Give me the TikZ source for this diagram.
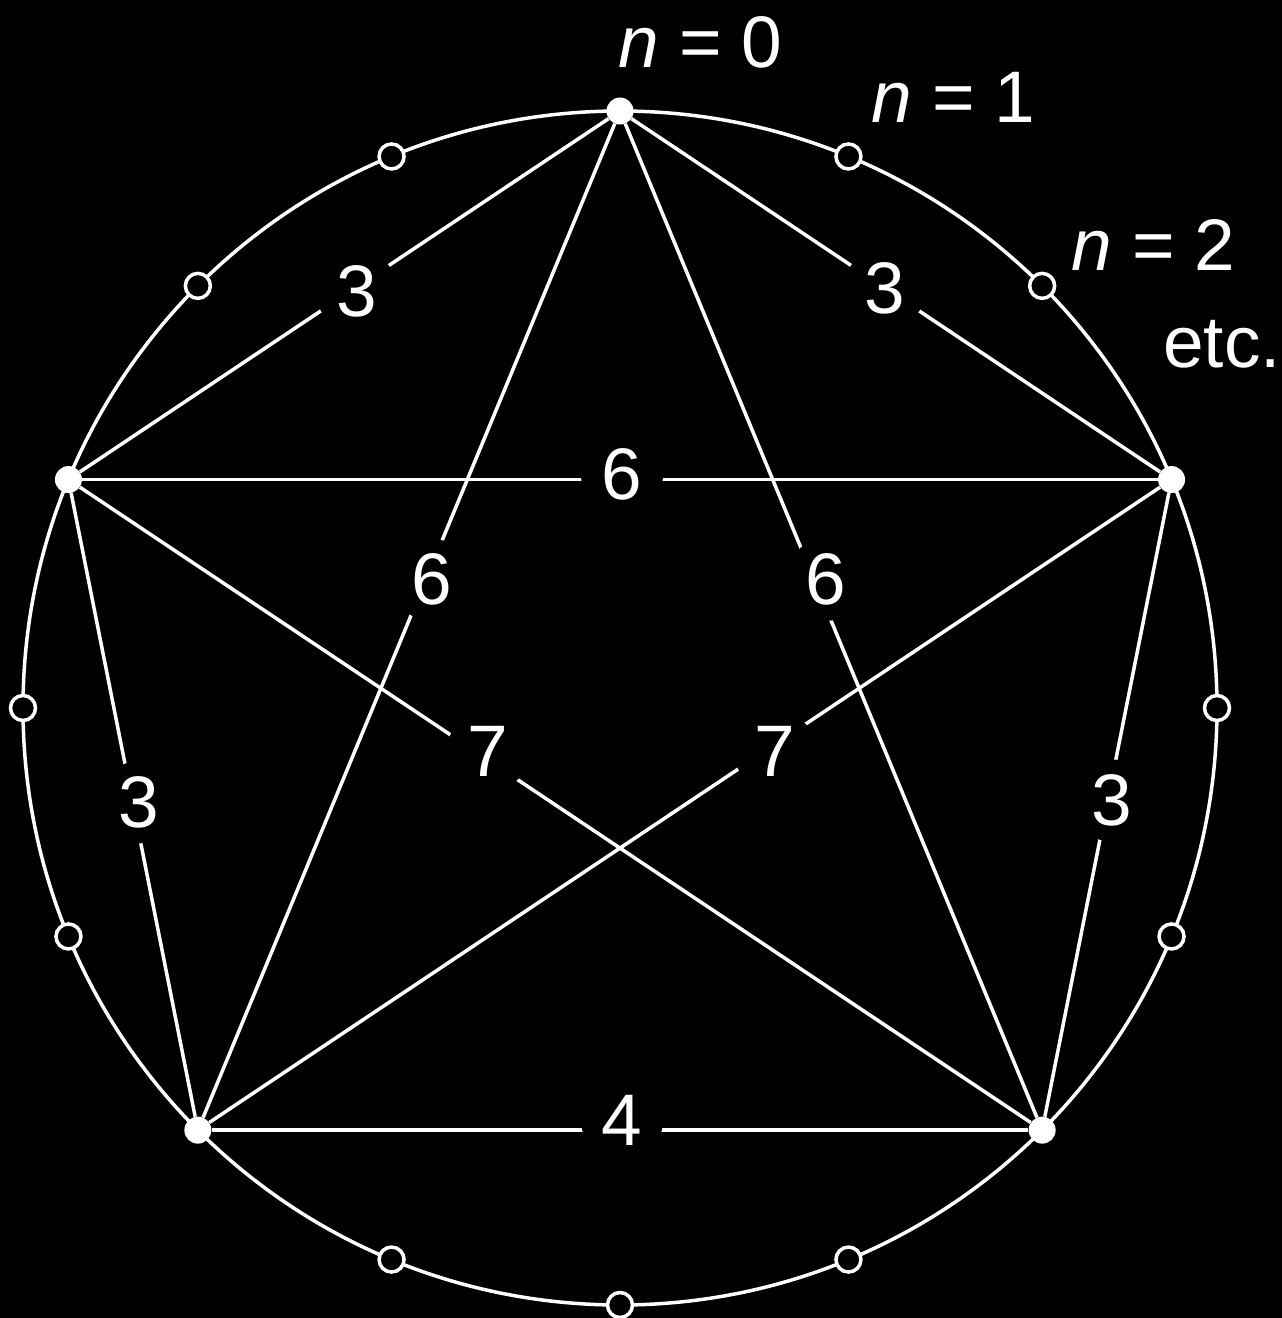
\documentclass[tikz,border=0pt]{standalone}
\usepackage{fontspec}
\setmainfont{Liberation Sans}
\usetikzlibrary{calc}
\tikzset{
  ln/.style={draw=white, line width=3.5pt},
  filled/.style={circle, fill=white, draw=none, inner sep=0pt, minimum size=27pt},
  open/.style={circle, fill=black, draw=white, line width=3.5pt, inner sep=0pt, minimum size=25pt},
  lbl/.style={circle, fill=black, text=white, inner sep=0pt, minimum size=82pt, font=\fontsize{73}{80}\selectfont},
  txt/.style={text=white, inner sep=0pt, anchor=base west, font=\fontsize{73}{80}\selectfont}
}
\begin{document}
\begin{tikzpicture}[x=1pt, y=-1pt]
\fill[black] (0,0) rectangle (1282,1318);
\useasboundingbox (0,0) rectangle (1282,1318);
\coordinate (C) at (620,708);
\draw[ln] (C) circle[radius=597pt];
\foreach \k in {1,2,4,5,7,8,9,11,12,14,15}
  \node[open] (p\k) at ($(C)+({-90+22.5*\k}:597)$) {};
\node[filled] (T)  at ($(C)+(-90:597)$) {};
\node[filled] (R)  at ($(C)+(-22.5:597)$) {};
\node[filled] (BR) at ($(C)+(45:597)$) {};
\node[filled] (BL) at ($(C)+(135:597)$) {};
\node[filled] (L)  at ($(C)+(202.5:597)$) {};
\draw[ln] (T) -- node[lbl, pos=0.48, xshift=2pt, yshift=-3pt] {3} (L);
\draw[ln] (T) -- node[lbl, pos=0.48] {3} (R);
\draw[ln] (L) -- node[lbl, pos=0.5, xshift=2pt, yshift=5pt] {6} (R);
\draw[ln] (T) -- node[lbl, pos=0.457, xshift=5pt, yshift=-2pt] {6} (BL);
\draw[ln] (T) -- node[lbl, pos=0.464, xshift=10pt, yshift=5pt] {6} (BR);
\draw[ln] (L) -- node[lbl, pos=0.425, xshift=4pt, yshift=6pt] {7} (BR);
\draw[ln] (R) -- node[lbl, pos=0.408, xshift=3pt, yshift=-5pt] {7} (BL);
\draw[ln] (L) -- node[lbl, pos=0.496, xshift=6pt] {3} (BL);
\draw[ln] (R) -- node[lbl, pos=0.493, xshift=4pt] {3} (BR);
\draw[ln] (BL) -- node[lbl, pos=0.5, xshift=2pt, yshift=10pt] {4} (BR);
\node[txt] (n0) at (618,67) {\textit{n} = 0};
\node[txt] (n1) at (871,122) {\textit{n} = 1};
\node[txt] (n2) at (1071,270) {\textit{n} = 2};
\node[txt] (etc) at (1163,367) {etc.};
\end{tikzpicture}
\end{document}
